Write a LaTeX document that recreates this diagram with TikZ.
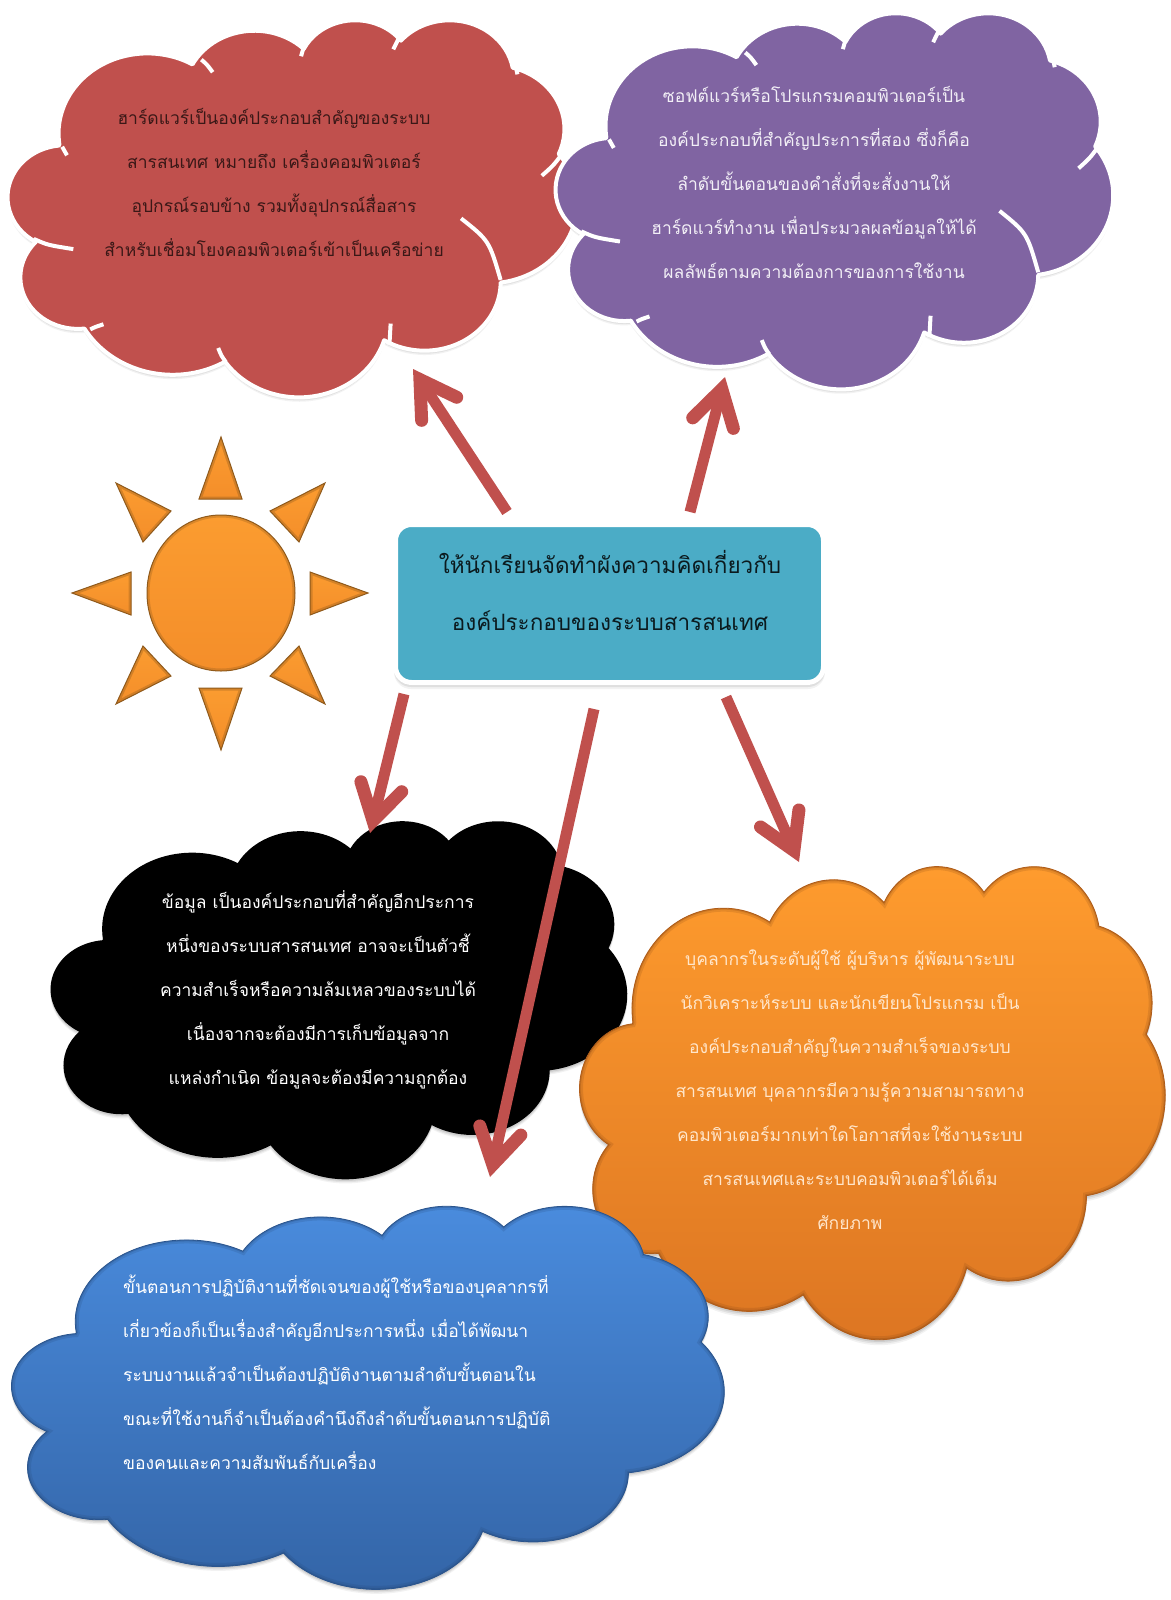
\documentclass[tikz,border=0pt]{standalone}
\usepackage{fontspec}
\newfontfamily\thaifont[Script=Thai]{Loma}
\usetikzlibrary{arrows.meta}
\definecolor{redc}{HTML}{C0504D}
\definecolor{purc}{HTML}{8064A2}
\definecolor{boxc}{HTML}{4BACC6}
\definecolor{orT}{HTML}{FF9C2E}
\definecolor{orB}{HTML}{DC7522}
\definecolor{blT}{HTML}{4A8CDE}
\definecolor{blB}{HTML}{3364A6}
\definecolor{sunT}{HTML}{FB9C30}
\definecolor{sunB}{HTML}{F48E2A}
\definecolor{edgec}{HTML}{8F5A1C}
% one arc of the cloud outline: x radius, y radius, start angle, sweep (angles as seen, not parameters)
\newcommand\ca[4]{arc[x radius=#1pt,y radius=#2pt,start angle={atan2(#1*sin(#3),#2*cos(#3))},delta angle={mod(atan2(#1*sin(#3+#4),#2*cos(#3+#4))-atan2(#1*sin(#3),#2*cos(#3))+720,360)}]}
\newcommand\cloudp{(39,143.7) \ca{67.53}{91.90}{-190.4875}{123.7805} \ca{53.33}{72.67}{-144.1024}{89.9452} \ca{43.65}{59.45}{-145.8079}{99.7230} \ca{48.57}{65.95}{-130.9861}{117.2417} \ca{53.33}{72.73}{-78.7089}{109.0269} \ca{67.75}{92.20}{-46.2673}{130.2690} \ca{57.85}{78.67}{0.6250}{114.0333} \ca{67.52}{92.15}{22.4516}{115.1726} \ca{77.20}{105.43}{66.2426}{75.7110} \ca{43.60}{59.18}{-274.9421}{146.7356} \ca{43.45}{59.45}{-246.8285}{152.5189} -- cycle}
\newcommand\cloudsh[5]{\begin{scope}[shift={(#1,#2)},xscale=#3/432,yscale=#4/432]
\foreach \d/\o in {5/.05,3.5/.07,2/.09}{\fill[black,opacity=\o] [yshift=\d pt] \cloudp;}
\path[#5] \cloudp;
\end{scope}}
\newcommand\cloudbevel[5]{\begin{scope}[shift={(#1,#2)},xscale=#3/432,yscale=#4/432]
\clip \cloudp;
\draw[#5,line width=7pt,opacity=.18] \cloudp;
\draw[#5,line width=3pt,opacity=.25] \cloudp;
\end{scope}}
\newcommand\cloudlines[4]{\begin{scope}[shift={(#1,#2)},xscale=#3/432,yscale=#4/432]
\draw[inl] (41.1,146.4) .. controls (43,151) .. (44.8,156.2);
\draw[inl] (19.6,252) .. controls (30,259) .. (49.6,263.7);
\draw[inl] (62.5,355.7) .. controls (66,353) .. (72.5,349.8);
\draw[inl] (165.3,392.9) .. controls (162,386) .. (159.6,377);
\draw[inl] (289.6,373.3) .. controls (290,361) .. (290.5,349);
\draw[inl] (344,228.5) .. controls (365.3,254) .. (374,299);
\draw[inl] (421,154) .. controls (414,168) .. (405.3,179.6);
\draw[inl] (384,44.6) .. controls (386,54) .. (386.8,63.4);
\draw[inl] (292.5,34.8) .. controls (294.5,28) .. (297,21);
\draw[inl] (222.5,42.7) .. controls (224.5,32) .. (228.2,23);
\draw[inl] (146.8,46.6) .. controls (151,52) .. (155.4,61);
\end{scope}}
\newcommand\sunray[3]{\path[ray] #1 -- #2 -- #3 -- cycle;
\begin{scope}\clip #1 -- #2 -- #3 -- cycle;
\draw[edgec,line width=5pt,opacity=.35,line join=miter] #1 -- #2 -- #3 -- cycle;\end{scope}}
\tikzset{
 inl/.style={draw=white,line width=4pt},
 whitecl/.style={draw=white,line width=4pt,line join=round},
 txt/.style={align=center,inner sep=0pt,font=\thaifont\fontsize{17.5}{44}\selectfont},
 arw/.style={draw=redc,line width=11pt,-{Straight Barb[length=35pt,width=42pt,line width=13pt,line cap=round,line join=miter]}},
 ray/.style={draw=edgec,line width=1pt,line join=miter,top color=sunT,bottom color=sunB},
}
\begin{document}
\begin{tikzpicture}[x=1pt,y=1pt,yscale=-1]
\useasboundingbox (0,0) rectangle (1170,1600);
% red
\cloudsh{8}{19}{569}{377}{fill=redc,whitecl}
\cloudlines{8}{19}{569}{377}
\node[txt,text=black!70!redc] (redtxt) at (274,182) {ฮาร์ดแวร์เป็นองค์ประกอบสำคัญของระบบ\\สารสนเทศ หมายถึง เครื่องคอมพิวเตอร์\\อุปกรณ์รอบข้าง รวมทั้งอุปกรณ์สื่อสาร\\สำหรับเชื่อมโยงคอมพิวเตอร์เข้าเป็นเครือข่าย};
% purple
\cloudsh{556}{12}{557}{376}{fill=purc,whitecl}
\cloudlines{556}{12}{557}{376}
\node[txt,text=white!90!purc] (purtxt) at (814,182) {ซอฟต์แวร์หรือโปรแกรมคอมพิวเตอร์เป็น\\องค์ประกอบที่สำคัญประการที่สอง ซึ่งก็คือ\\ลำดับขั้นตอนของคำสั่งที่จะสั่งงานให้\\ฮาร์ดแวร์ทำงาน เพื่อประมวลผลข้อมูลให้ได้\\ผลลัพธ์ตามความต้องการของการใช้งาน};
% black
\cloudsh{51}{820}{576}{358}{fill=black}
\node[txt,text=white] (blktxt) at (318,990) {ข้อมูล เป็นองค์ประกอบที่สำคัญอีกประการ\\หนึ่งของระบบสารสนเทศ อาจจะเป็นตัวชี้\\ความสำเร็จหรือความล้มเหลวของระบบได้\\เนื่องจากจะต้องมีการเก็บข้อมูลจาก\\แหล่งกำเนิด ข้อมูลจะต้องมีความถูกต้อง};
% orange
\cloudsh{580}{865}{585}{473}{top color=orT,bottom color=orB,draw=orB!85!black,line width=.8pt}
\cloudbevel{580}{865}{585}{473}{orB!60!black}
\node[txt,text=white!75!orT] (ortxt) at (850,1090) {บุคลากรในระดับผู้ใช้ ผู้บริหาร ผู้พัฒนาระบบ\\นักวิเคราะห์ระบบ และนักเขียนโปรแกรม เป็น\\องค์ประกอบสำคัญในความสำเร็จของระบบ\\สารสนเทศ บุคลากรมีความรู้ความสามารถทาง\\คอมพิวเตอร์มากเท่าใดโอกาสที่จะใช้งานระบบ\\สารสนเทศและระบบคอมพิวเตอร์ได้เต็ม\\ศักยภาพ};
% blue
\cloudsh{12}{1205}{712}{383}{top color=blT,bottom color=blB,draw=blB!90!black,line width=.8pt}
\cloudbevel{12}{1205}{712}{383}{blB!70!black}
\node[txt,text=white,align=left,anchor=west] (blutxt) at (123,1372) {ขั้นตอนการปฏิบัติงานที่ชัดเจนของผู้ใช้หรือของบุคลากรที่\\เกี่ยวข้องก็เป็นเรื่องสำคัญอีกประการหนึ่ง เมื่อได้พัฒนา\\ระบบงานแล้วจำเป็นต้องปฏิบัติงานตามลำดับขั้นตอนใน\\ขณะที่ใช้งานก็จำเป็นต้องคำนึงถึงลำดับขั้นตอนการปฏิบัติ\\ของคนและความสัมพันธ์กับเครื่อง};
% sun
\sunray{(221,437)}{(242,499)}{(199,499)}
\sunray{(221,750)}{(242,688)}{(199,688)}
\sunray{(72,593)}{(131,572)}{(131,615)}
\sunray{(368,593)}{(310,572)}{(310,615)}
\sunray{(116,483)}{(171,511)}{(143,542)}
\sunray{(325,483)}{(270,511)}{(299,542)}
\sunray{(116,704)}{(171,676)}{(143,646)}
\sunray{(325,704)}{(270,676)}{(299,646)}
\path[draw=edgec,line width=1pt,top color=sunT,bottom color=sunB] (221,593) ellipse [x radius=74pt,y radius=78pt];
\begin{scope}\clip (221,593) ellipse [x radius=74pt,y radius=78pt];
\draw[edgec,line width=5pt,opacity=.3] (221,593) ellipse [x radius=74pt,y radius=78pt];\end{scope}
% central box
\foreach \d/\o in {7/.05,5/.08,3/.1}{\fill[black,opacity=\o,rounded corners=17pt] (394,524+\d) rectangle (825,682+\d);}
\node[draw=white,line width=5pt,fill=boxc,rounded corners=16pt,minimum width=428pt,minimum height=158pt,inner sep=0pt] (box) at (609.5,603.5) {};
\node[txt,font=\thaifont\fontsize{22.5}{57}\selectfont,text=black!85!boxc] (boxtxt) at (610,590) {ให้นักเรียนจัดทำผังความคิดเกี่ยวกับ\\องค์ประกอบของระบบสารสนเทศ};
% connectors
\coordinate (s1) at (507,512); \coordinate (e1) at (413,369);
\coordinate (s2) at (690,512); \coordinate (e2) at (725,377);
\coordinate (s3) at (404,694); \coordinate (e3) at (370,833);
\coordinate (s4) at (594,709); \coordinate (e4) at (490,1177);
\coordinate (s5) at (726,697); \coordinate (e5) at (799,862);
\draw[arw] (s1) -- (e1);
\draw[arw] (s2) -- (e2);
\draw[arw] (s3) -- (e3);
\draw[arw] (s4) -- (e4);
\draw[arw] (s5) -- (e5);
\end{tikzpicture}
\end{document}
